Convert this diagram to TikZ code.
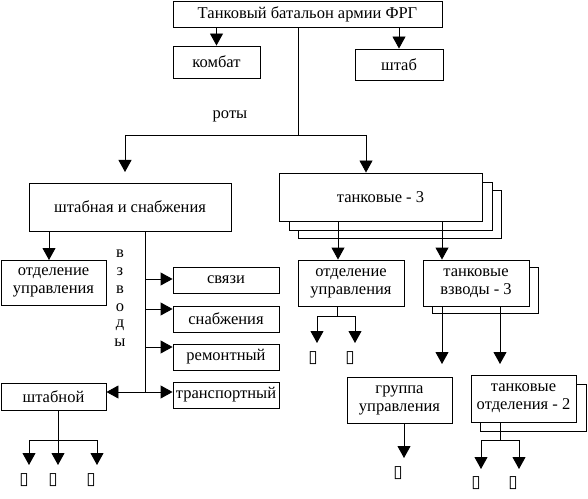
\documentclass[tikz,border=0pt]{standalone}
\usepackage{fontspec}
\setmainfont{Liberation Serif}
\newfontfamily\symfont{DejaVu Sans}
\usetikzlibrary{arrows.meta}
\tikzstyle{edge}=[
	-,
	draw=black,
	line width=0.9bp
]
\tikzstyle{arr}=[
	edge,
	-{Triangle[width=13bp,length=12bp]}
]
\tikzstyle{box}=[
	draw=black,
	fill=white,
	line width=0.9bp,
	inner sep=0pt,
	align=center,
	font=\fontsize{16.5bp}{18bp}\selectfont
]
\tikzstyle{lbl}=[
	inner sep=0pt,
	font=\fontsize{16.5bp}{18bp}\selectfont
]
\tikzstyle{blank}=[
	inner sep=0pt,
	font=\symfont\fontsize{17bp}{17bp}\selectfont
]
\begin{document}
\begin{tikzpicture}[x=1bp,y=-1bp]
\useasboundingbox (0,0) rectangle (588,499);

% battalion and its staff
\node[box, minimum width=269bp, minimum height=26bp] (top) at (307.5,14) {Танковый батальон армии ФРГ};
\node[box, minimum width=87bp, minimum height=32bp] (kombat) at (216.5,62) {комбат};
\node[box, minimum width=88bp, minimum height=31bp] (shtab) at (399,64.5) {штаб};
\draw[arr] (top.south -| kombat) to (kombat);
\draw[arr] (top.south -| shtab) to (shtab);

% companies
\node[lbl] (roty) at (230,116) {роты};
\coordinate (split) at (298,135);
\node[box, minimum width=202bp, minimum height=48bp] (shsn) at (130,207) {штабная и снабжения};
\node[box, minimum width=203bp, minimum height=48bp] (tk3c) at (399.5,214) {};
\node[box, minimum width=203bp, minimum height=48bp] (tk3b) at (390.5,206) {};
\node[box, minimum width=203bp, minimum height=48bp] (tk3) at (380.5,197) {танковые - 3};
\draw[edge] (top.south -| split) to (split);
\coordinate (lt) at (125,135);
\coordinate (rt) at (366,135);
\draw[edge] (lt) to (rt);
\draw[arr] (lt) to (125,172);
\draw[arr] (rt) to (tk3.north -| rt);

% staff and supply company
\node[box, minimum width=105bp, minimum height=45bp] (otd1) at (53.5,282.5) {отделение\\управления};
\draw[arr] (shsn.south -| otd1.center) ++(-4.5,0) to (49,260);
\coordinate (spine) at (145,392);
\draw[edge] (shsn.south -| spine) to (spine);
\node[box, minimum width=106bp, minimum height=26bp] (svyaz) at (226,280) {связи};
\node[box, minimum width=106bp, minimum height=26bp] (snab) at (226,319) {снабжения};
\node[box, minimum width=106bp, minimum height=26bp] (remont) at (226,357) {ремонтный};
\node[box, minimum width=106bp, minimum height=26bp] (transp) at (226,395) {транспортный};
\foreach \b/\y in {svyaz/279, snab/309, remont/347, transp/392}
  \draw[arr] (145,\y) to (\b.west |- 0,\y);
\node[box, minimum width=105bp, minimum height=27bp] (shtabnoy) at (53.5,396.5) {штабной};
\draw[arr] (spine) to (shtabnoy.east |- spine);
\foreach \c [count=\i] in {в,з,в,о,д,ы}
  \node[lbl] (vz\i) at (120,{236+17.8*\i}) {\c};

% under the staff platoon
\coordinate (s0) at (58,440);
\draw[edge] (shtabnoy.south -| s0) to (s0);
\draw[edge] (29,440) to (97,440);
\foreach \x/\t [count=\i] in {29/24, 58/53, 97/91} {
  \draw[arr] (\x,440) to (\x,465);
  \node[blank] (sq\i) at (\t,480) {▯};
}

% tank company
\node[box, minimum width=106bp, minimum height=46bp] (otd2) at (351,283) {отделение\\управления};
\node[box, minimum width=106bp, minimum height=46bp] (vzv3b) at (485.5,290) {};
\node[box, minimum width=106bp, minimum height=46bp] (vzv3) at (476,283) {танковые\\взводы - 3};
\draw[arr] (338,221) to (otd2.north -| 338,0);
\draw[arr] (442,221) to (vzv3.north -| 442,0);
\coordinate (o0) at (337,316);
\draw[edge] (otd2.south -| o0) to (o0);
\draw[edge] (317,316) to (355,316);
\draw[arr] (317,316) to (317,343);
\draw[arr] (355,316) to (355,343);
\node[blank] (sq4) at (313,358) {▯};
\node[blank] (sq5) at (350,358) {▯};

% tank platoons
\node[box, minimum width=105bp, minimum height=46bp] (grp) at (399.5,400) {группа\\управления};
\node[box, minimum width=106bp, minimum height=47bp] (tk2b) at (533.5,407.5) {};
\node[box, minimum width=105bp, minimum height=47bp] (tk2) at (523.5,398.5) {танковые\\отделения - 2};
\coordinate (g0) at (442,364);
\coordinate (t0) at (500,364);
\draw[arr] (vzv3.south -| g0) to (g0);
\draw[arr] (vzv3.south -| t0) to (t0);
\draw[arr] (grp.south -| 404,0) to (404,458);
\node[blank] (sq6) at (398,473) {▯};
\coordinate (k0) at (500,440);
\draw[edge] (tk2.south -| k0) to (k0);
\draw[edge] (481,440) to (519,440);
\draw[arr] (481,440) to (481,469);
\draw[arr] (519,440) to (519,469);
\node[blank] (sq7) at (476,483) {▯};
\node[blank] (sq8) at (513,483) {▯};

\end{tikzpicture}
\end{document}
